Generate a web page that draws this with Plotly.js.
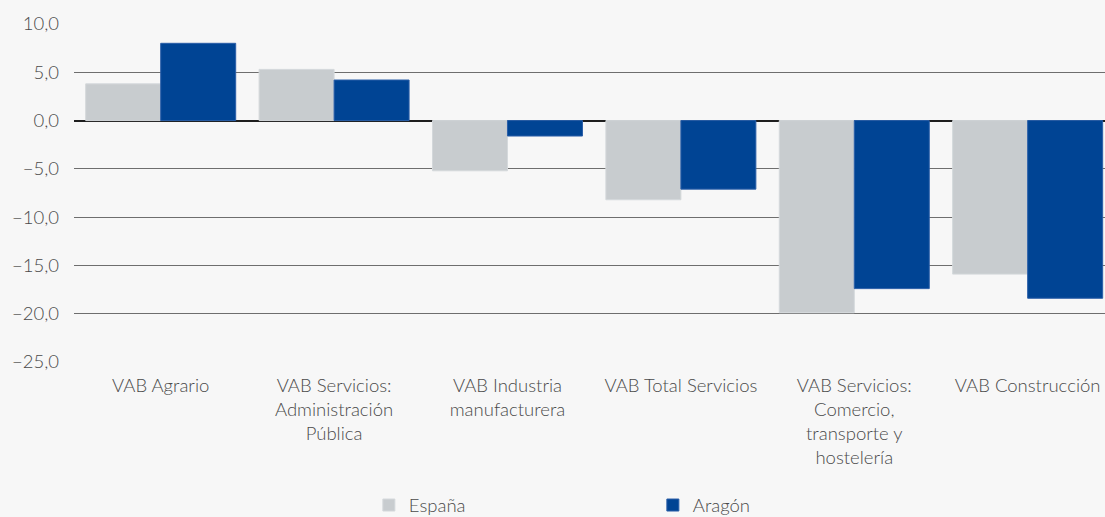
<!DOCTYPE html>
<html><head><meta charset="utf-8">
<script src="https://cdn.plot.ly/plotly-3.0.1.min.js"></script>
<style>html,body{margin:0;padding:0;background:#f7f7f7;overflow:hidden;}#chart{width:1105px;height:517px;}</style>
</head><body><div id="chart"></div>
<script>
const categories = [
  "VAB Agrario",
  "VAB Servicios:<br>Administración<br>Pública",
  "VAB Industria<br>manufacturera",
  "VAB Total Servicios",
  "VAB Servicios:<br>Comercio,<br>transporte y<br>hostelería",
  "VAB Construcción"
];
const espana = [3.8, 5.3, -5.2, -8.2, -19.9, -15.9];
const aragon = [8.0, 4.2, -1.6, -7.1, -17.4, -18.4];
const yTicks = [10, 5, 0, -5, -10, -15, -20, -25];

const font = {family: "Lato, 'Noto Sans', sans-serif", size: 18.5, color: "#4a4a4a", weight: 300};
const data = [
  {type: "bar", name: "España", x: categories, y: espana,
   marker: {color: "#c8cccf", line: {color: "#d4d8db", width: 1}}},
  {type: "bar", name: "Aragón", x: categories, y: aragon,
   marker: {color: "#004494", line: {color: "#2a5ea8", width: 1}}}
];
const layout = {
  width: 1105, height: 517,
  margin: {l: 74, r: 0, t: 24, b: 155},
  paper_bgcolor: "#f7f7f7", plot_bgcolor: "#f7f7f7",
  font: font,
  separators: ",.",
  barmode: "group", bargap: 0.135, bargroupgap: 0,
  showlegend: true,
  legend: {orientation: "h", x: 0.286, xanchor: "left", y: 0.059, yanchor: "top", yref: "container",
           entrywidth: 239, entrywidthmode: "pixels", font: font, bgcolor: "rgba(0,0,0,0)"},
  xaxis: {type: "category", range: [-0.5, 5.446], showgrid: false, showline: false, ticks: "", tickfont: font, tickangle: 0,
          ticklabelstandoff: 10, automargin: false},
  yaxis: {range: [-25, 10], tickvals: yTicks, tickformat: ".1f", showgrid: true, gridcolor: "#6e6e6e", gridwidth: 1,
          zeroline: true, zerolinecolor: "#1e1e1e", zerolinewidth: 2, showline: false, ticks: "", ticklabelstandoff: 14, tickfont: font, automargin: false}
};
Plotly.newPlot("chart", data, layout, {displayModeBar: false, staticPlot: true});
</script></body></html>
